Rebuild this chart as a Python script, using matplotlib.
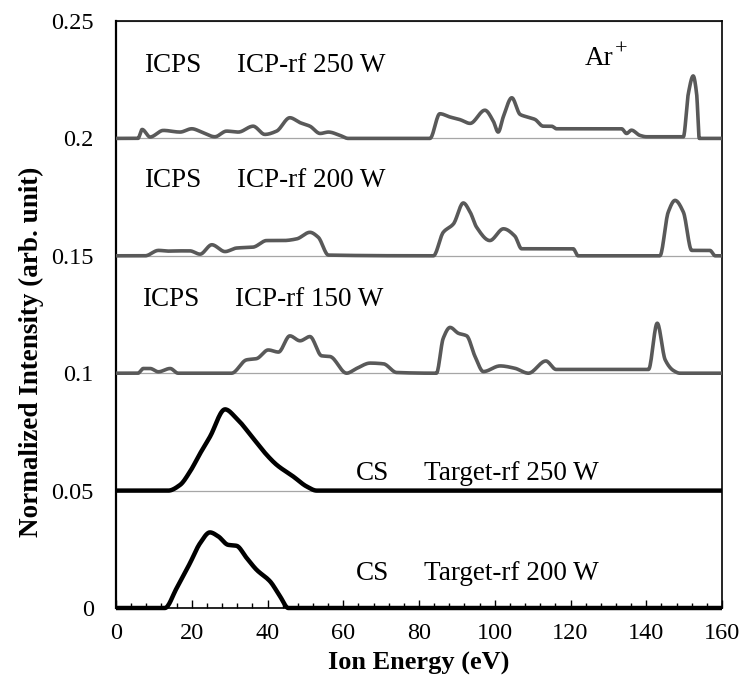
import numpy as np
import matplotlib.pyplot as plt
from matplotlib.ticker import MultipleLocator

plt.rcParams['font.family'] = ['Liberation Serif', 'DejaVu Serif']

# ion energy (eV) / intensity above each curve's own baseline
icp250_x = [0, 5.8, 6.9, 9.0, 12.5, 16.9, 20.0, 23.0, 26.1, 29.2, 32.3, 36.2, 39.3, 42.4,
            45.9, 48.6, 51.2, 53.9, 56.1, 59.1, 61.3, 82.9, 85.5, 88.2, 90.8, 93.5, 97.4,
            99.6, 100.9, 102.3, 104.5, 106.7, 108.4, 110.6, 112.8, 115.0, 116.3, 133.5,
            134.8, 136.1, 138.3, 140.1, 149.8, 151.1, 152.4, 153.3, 154.0, 160]
icp250_y = [0, 0, 0.0038, 0.0006, 0.0034, 0.0027, 0.0041, 0.0024, 0.0007, 0.0031, 0.0027,
            0.0052, 0.0017, 0.0031, 0.0088, 0.0067, 0.0052, 0.0021, 0.0027, 0.0013, 0, 0,
            0.0105, 0.0091, 0.0080, 0.0064, 0.0120, 0.0074, 0.0027, 0.0094, 0.0173, 0.0102,
            0.0092, 0.0081, 0.0052, 0.0052, 0.0041, 0.0041, 0.0021, 0.0035, 0.0013, 0.0007,
            0.0007, 0.0190, 0.0266, 0.0190, 0, 0]

icp200_x = [0, 7.7, 11.2, 13.8, 16.9, 19.5, 22.2, 25.3, 28.8, 31.8, 36.2, 39.8, 44.2, 47.7,
            51.2, 53.4, 56.1, 83.8, 86.4, 89.1, 91.7, 93.5, 95.2, 98.7, 102.3, 105.3, 107.1,
            120.7, 122.0, 143.6, 145.8, 147.6, 149.8, 152.0, 156.8, 158.2, 160]
icp200_y = [0, 0, 0.0023, 0.0020, 0.0021, 0.0021, 0.0007, 0.0047, 0.0018, 0.0033, 0.0037,
            0.0065, 0.0065, 0.0072, 0.0100, 0.0079, 0.0003, 0, 0.0100, 0.0136, 0.0225,
            0.0186, 0.0122, 0.0065, 0.0115, 0.0084, 0.0030, 0.0030, 0, 0, 0.0186, 0.0236,
            0.0186, 0.0023, 0.0023, 0, 0]

icp150_x = [0, 5.8, 7.2, 9.0, 11.2, 14.3, 16.4, 30.5, 34.5, 37.1, 40.2, 42.9, 45.9, 48.6,
            51.2, 54.3, 56.5, 60.9, 63.5, 67.1, 70.6, 74.1, 84.6, 86.4, 88.2, 90.4, 92.6,
            94.8, 97.0, 101.4, 105.3, 108.9, 113.5, 116.2, 140.6, 142.9, 145.0, 147.2,
            148.9, 160]
icp150_y = [0, 0, 0.0020, 0.0020, 0.0006, 0.0020, 0, 0, 0.0057, 0.0062, 0.0099, 0.0090,
            0.0159, 0.0138, 0.0156, 0.0074, 0.0071, 0, 0.0020, 0.0043, 0.0040, 0.0003, 0,
            0.0149, 0.0195, 0.0170, 0.0159, 0.0071, 0.0007, 0.0031, 0.0021, 0, 0.0052,
            0.0016, 0.0016, 0.0213, 0.0057, 0.0011, 0, 0]

cs250_x = [0, 13.8, 16.9, 19.5, 22.2, 24.8, 28.8, 31.8, 36.2, 39.8, 42.4, 46.8, 50.4, 53.0, 160]
cs250_y = [0, 0, 0.0024, 0.0080, 0.0158, 0.0229, 0.0346, 0.0308, 0.0223, 0.0152, 0.0110,
           0.0060, 0.0017, 0, 0]

cs200_x = [0, 12.9, 16.0, 19.5, 22.2, 24.8, 27.0, 29.6, 31.8, 34.5, 37.1, 40.7, 43.3, 45.5, 160]
cs200_y = [0, 0, 0.0084, 0.0190, 0.0276, 0.0322, 0.0305, 0.0269, 0.0265, 0.0213, 0.0163,
           0.0113, 0.0050, 0, 0]

offsets = [0.2, 0.15, 0.1, 0.05, 0.0]
xs = [icp250_x, icp200_x, icp150_x, cs250_x, cs200_x]
ys = [icp250_y, icp200_y, icp150_y, cs250_y, cs200_y]
colors = ['#595959', '#595959', '#595959', 'black', 'black']
widths = [2.6, 2.6, 2.6, 3.2, 3.2]


def smooth(x, y, n=16):
    # smoothed line through the points, monotone cubic so flats stay flat
    x = np.asarray(x, float)
    y = np.asarray(y, float)
    h = np.diff(x)
    d = np.diff(y) / h
    m = np.zeros_like(y)
    for i in range(1, len(y) - 1):
        if d[i - 1] * d[i] > 0:
            w1 = 2 * h[i] + h[i - 1]
            w2 = h[i] + 2 * h[i - 1]
            m[i] = (w1 + w2) / (w1 / d[i - 1] + w2 / d[i])
    t = np.linspace(0, 1, n, endpoint=False)
    h00 = 2 * t ** 3 - 3 * t ** 2 + 1
    h10 = t ** 3 - 2 * t ** 2 + t
    h01 = -2 * t ** 3 + 3 * t ** 2
    h11 = t ** 3 - t ** 2
    outx, outy = [], []
    for i in range(len(x) - 1):
        outx.extend(x[i] + t * h[i])
        outy.extend(h00 * y[i] + h10 * h[i] * m[i] + h01 * y[i + 1] + h11 * h[i] * m[i + 1])
    outx.append(x[-1])
    outy.append(y[-1])
    return outx, outy


fig = plt.figure(figsize=(7.44, 6.86), dpi=100)
ax = fig.add_axes([116 / 744, 78 / 686, 606 / 744, 587 / 686])

ax.set_xlim(0, 160)
ax.set_ylim(0, 0.25)
ax.set_xticks(range(0, 161, 20))
ax.xaxis.set_minor_locator(MultipleLocator(4))
ax.set_yticks([0, 0.05, 0.1, 0.15, 0.2, 0.25])
ax.set_yticklabels(['0', '0.05', '0.1', '0.15', '0.2', '0.25'])
ax.grid(axis='y', color='#a6a6a6', linewidth=0.9, zorder=0)
ax.set_axisbelow(True)

for x, y, off, c, w in zip(xs, ys, offsets, colors, widths):
    sx, sy = smooth(x, y)
    ax.plot(sx, [v + off for v in sy], color=c, linewidth=w,
            solid_joinstyle='round', solid_capstyle='butt', zorder=3, clip_on=False)

ax.tick_params(axis='x', which='major', direction='in', length=6, width=1, pad=11,
               labelsize=17.5)
ax.tick_params(axis='x', which='minor', direction='in', length=3.5, width=1)
ax.tick_params(axis='y', length=0, pad=16, labelsize=17.5)
for s in ax.spines.values():
    s.set_linewidth(1.2)
ax.spines['left'].set_linewidth(1.6)

ax.set_xlabel('Ion Energy (eV)', fontsize=19, fontweight='bold')
ax.set_ylabel('Normalized Intensity (arb. unit)', fontsize=19.5, fontweight='bold')
ax.xaxis.label.set_va('center')
ax.yaxis.label.set_va('center')
ax.xaxis.set_label_coords(0.5, -0.094)
ax.yaxis.set_label_coords(-0.139, 0.436)

tfs = 19.5
ax.text(7.4, 0.2283, 'ICPS', fontsize=tfs)
ax.text(32.0, 0.2283, 'ICP-rf 250 W', fontsize=tfs)
ax.text(7.4, 0.1793, 'ICPS', fontsize=tfs)
ax.text(32.0, 0.1793, 'ICP-rf 200 W', fontsize=tfs)
ax.text(7.0, 0.1286, 'ICPS', fontsize=tfs)
ax.text(31.3, 0.1286, 'ICP-rf 150 W', fontsize=tfs)
ax.text(63.4, 0.0545, 'CS', fontsize=tfs)
ax.text(81.4, 0.0545, 'Target-rf 250 W', fontsize=tfs)
ax.text(63.4, 0.0119, 'CS', fontsize=tfs)
ax.text(81.4, 0.0119, 'Target-rf 200 W', fontsize=tfs)
ax.text(123.8, 0.2313, 'Ar', fontsize=tfs)
ax.text(131.6, 0.2355, '+', fontsize=16)

fig.savefig('out.png', dpi=100)
